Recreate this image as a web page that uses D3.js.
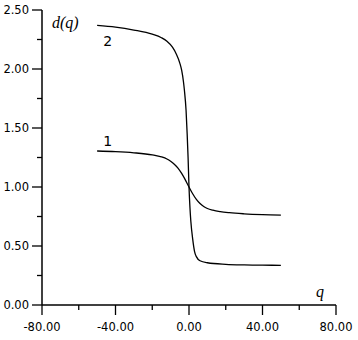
<!DOCTYPE html>
<html lang="en">
<head>
  <meta charset="UTF-8">
  <title>d(q)</title>
  <script src="https://d3js.org/d3.v7.min.js"></script>
  <style>
    body { margin: 0; padding: 0; background: #fff; }
    text { font-family: "DejaVu Sans", Verdana, sans-serif; font-size: 11.5px; fill: #000; }
    .axis-title { font-family: "Liberation Serif", "Times New Roman", serif; font-style: italic; font-size: 16px; }
    .curve-label { font-size: 14px; }
  </style>
</head>
<body>
<div id="chart"></div>
<script>
  // tick values
  const xTicks = [-80, -40, 0, 40, 80];
  const xMinor = [-60, -20, 20, 60];
  const yTicks = [0, 0.5, 1, 1.5, 2, 2.5];
  const yMinor = [0.25, 0.75, 1.25, 1.75, 2.25];

  // curve 1
  const q1 = [-50, -40, -30, -20, -15, -12, -10, -8, -6, -4, -2, -1, 0, 1, 2, 4, 6, 8, 10, 13, 17, 22, 30, 40, 50];
  const d1 = [1.305, 1.30, 1.29, 1.272, 1.255, 1.237, 1.218, 1.193, 1.16, 1.115, 1.06, 1.03, 1.0, 0.97, 0.943, 0.895, 0.86, 0.835, 0.818, 0.803, 0.791, 0.782, 0.773, 0.766, 0.762];

  // curve 2
  const q2 = [-50, -40, -30, -20, -15, -12, -9, -7, -5, -4, -3, -2.5, -1.6, -1, -0.5, 0, 0.5, 1, 2, 3, 4, 6, 10, 20, 30, 40, 50];
  const d2 = [2.37, 2.355, 2.33, 2.295, 2.265, 2.235, 2.185, 2.13, 2.05, 1.99, 1.89, 1.82, 1.65, 1.45, 1.25, 1.0, 0.83, 0.71, 0.56, 0.455, 0.41, 0.375, 0.358, 0.345, 0.34, 0.338, 0.336];

  const width = 358, height = 340;
  const svg = d3.select("#chart").append("svg")
    .attr("width", width)
    .attr("height", height);

  const x = d3.scaleLinear().domain([-80, 80]).range([42, 336]);
  const y = d3.scaleLinear().domain([0, 2.5]).range([305, 10]);

  // x axis
  const xAxis = svg.append("g").attr("transform", `translate(0,${y(0)})`);
  xAxis.append("line")
    .attr("x1", x(-80)).attr("x2", x(80))
    .attr("stroke", "#000").attr("stroke-width", 1.5);
  xAxis.selectAll(".maj").data(xTicks).enter().append("line")
    .attr("x1", d => x(d)).attr("x2", d => x(d))
    .attr("y1", 0).attr("y2", 10)
    .attr("stroke", "#000").attr("stroke-width", 1.3);
  xAxis.selectAll(".min").data(xMinor).enter().append("line")
    .attr("x1", d => x(d)).attr("x2", d => x(d))
    .attr("y1", 0).attr("y2", 5)
    .attr("stroke", "#000").attr("stroke-width", 1.3);
  xAxis.selectAll("text").data(xTicks).enter().append("text")
    .attr("x", d => x(d)).attr("y", 26)
    .attr("text-anchor", "middle")
    .text(d => d.toFixed(2));

  // y axis
  const yAxis = svg.append("g").attr("transform", `translate(${x(-80)},0)`);
  yAxis.append("line")
    .attr("y1", y(0)).attr("y2", y(2.5))
    .attr("stroke", "#000").attr("stroke-width", 1.5);
  yAxis.selectAll(".maj").data(yTicks).enter().append("line")
    .attr("y1", d => y(d)).attr("y2", d => y(d))
    .attr("x1", -10).attr("x2", 0)
    .attr("stroke", "#000").attr("stroke-width", 1.3);
  yAxis.selectAll(".min").data(yMinor).enter().append("line")
    .attr("y1", d => y(d)).attr("y2", d => y(d))
    .attr("x1", -5).attr("x2", 0)
    .attr("stroke", "#000").attr("stroke-width", 1.3);
  yAxis.selectAll("text").data(yTicks).enter().append("text")
    .attr("x", -13).attr("y", d => y(d))
    .attr("dy", "0.36em")
    .attr("text-anchor", "end")
    .text(d => d.toFixed(2));

  // axis titles
  svg.append("text").attr("class", "axis-title")
    .attr("x", 52).attr("y", 28).text("d(q)");
  svg.append("text").attr("class", "axis-title")
    .attr("x", 316).attr("y", 297).text("q");

  const line = d3.line()
    .x(d => x(d[0]))
    .y(d => y(d[1]))
    .curve(d3.curveMonotoneX);

  svg.append("path")
    .datum(q1.map((q, i) => [q, d1[i]]))
    .attr("d", line)
    .attr("fill", "none").attr("stroke", "#000").attr("stroke-width", 1.3);

  svg.append("path")
    .datum(q2.map((q, i) => [q, d2[i]]))
    .attr("d", line)
    .attr("fill", "none").attr("stroke", "#000").attr("stroke-width", 1.3);

  // curve labels
  svg.append("text").attr("class", "curve-label")
    .attr("x", x(-50) + 6).attr("y", y(d1[0]) - 5).text("1");
  svg.append("text").attr("class", "curve-label")
    .attr("x", x(-50) + 6).attr("y", y(d2[0]) + 21).text("2");
</script>
</body>
</html>
